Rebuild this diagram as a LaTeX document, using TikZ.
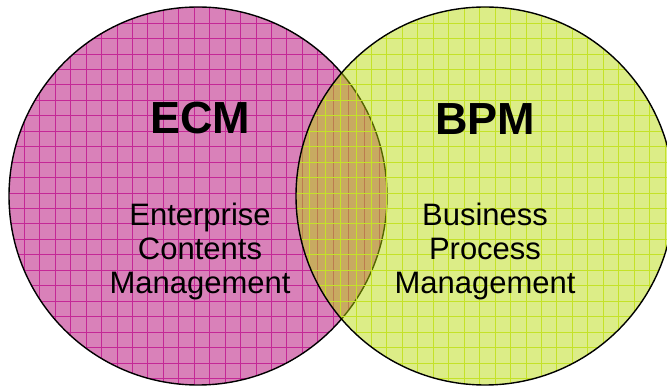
\documentclass[tikz,border=0pt]{standalone}
\usepackage{fontspec}
\setmainfont{Liberation Sans}
\definecolor{ecmfill}{RGB}{217,129,185}
\definecolor{ecmgrid}{RGB}{196,40,150}
\definecolor{bpmfill}{RGB}{181,217,0}
\definecolor{bpmgrid}{RGB}{196,226,40}
\begin{document}
\begin{tikzpicture}[x=1pt,y=-1pt,
  title/.style={font=\bfseries\fontsize{45}{54}\selectfont, inner sep=0pt},
  desc/.style={font=\fontsize{31}{34.2}\selectfont, align=center, inner sep=0pt},
  gridline/.style={line width=0.6pt},
  rim/.style={draw=black, line width=1.4pt}]
\useasboundingbox (0,0) rectangle (667,387);
\coordinate (cl) at (198,196);
\coordinate (cr) at (485,196);
% left circle
\begin{scope}
  \clip (cl) circle[radius=189pt];
  \fill[ecmfill] (0,0) rectangle (667,387);
  \foreach \i in {0,...,26} \draw[ecmgrid, gridline] ({8.65+15.45*\i},0) -- ++(0,387);
  \foreach \j in {0,...,25} \draw[ecmgrid, gridline] (0,{7.5+15.45*\j}) -- ++(667,0);
\end{scope}
\draw[rim] (cl) circle[radius=189pt];
% right circle
\fill[bpmfill, fill opacity=0.47] (cr) circle[radius=189pt];
\begin{scope}
  \clip (cr) circle[radius=189pt];
  \foreach \i in {0,...,44} \draw[bpmgrid, gridline] ({0.5+15.45*\i},0) -- ++(0,387);
  \foreach \j in {0,...,25} \draw[bpmgrid, gridline] (0,{7.5+15.45*\j}) -- ++(667,0);
\end{scope}
\draw[rim] (cr) circle[radius=189pt];
% texts
\node[title, anchor=base] (ecm) at (200,134) {ECM};
\node[title, anchor=base] (bpm) at (485,135) {BPM};
\node[desc, anchor=base] (ecmtext) at (200,293.5) {Enterprise\\Contents\\Management};
\node[desc, anchor=base] (bpmtext) at (485,294) {Business\\Process\\Management};
\end{tikzpicture}
\end{document}
